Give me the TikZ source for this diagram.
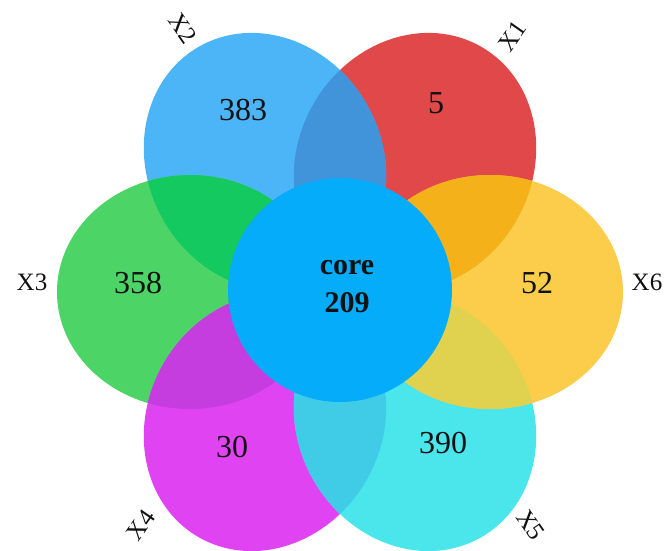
\documentclass[tikz,border=0pt]{standalone}
\usepackage{fontspec}
\setmainfont{Liberation Serif}
\definecolor{cA}{HTML}{E0484A}% X1 red
\definecolor{cB}{HTML}{4BB5F7}% X2 blue
\definecolor{cC}{HTML}{4DD466}% X3 green
\definecolor{cD}{HTML}{E044F2}% X4 magenta
\definecolor{cE}{HTML}{4AE6EC}% X5 cyan
\definecolor{cF}{HTML}{FBCD4A}% X6 yellow
\definecolor{cAB}{HTML}{4193DA}
\definecolor{cBC}{HTML}{14C95F}
\definecolor{cCD}{HTML}{C53CDF}
\definecolor{cDE}{HTML}{40CCE6}
\definecolor{cEF}{HTML}{E0D24F}
\definecolor{cFA}{HTML}{F5B11A}
\definecolor{corec}{HTML}{05ACFA}
\definecolor{txt}{HTML}{111111}
\newcommand\petalpath{(0,0) ellipse [x radius=133pt, y radius=117pt]}
\begin{document}
\begin{tikzpicture}[x=1pt,y=1pt,
  pA/.style={shift={(415,-162.1)},rotate=60},
  pB/.style={shift={(265,-162.1)},rotate=120},
  pC/.style={shift={(190,-292)},rotate=180},
  pD/.style={shift={(265,-421.9)},rotate=240},
  pE/.style={shift={(415,-421.9)},rotate=300},
  pF/.style={shift={(490,-292)},rotate=0},
  num/.style={font=\fontsize{32}{32}\selectfont, text=txt, inner sep=0pt},
  lab/.style={font=\fontsize{25}{25}\selectfont, text=txt, inner sep=0pt},
  corelab/.style={font=\bfseries\fontsize{30}{30}\selectfont, text=txt, inner sep=0pt}]
\useasboundingbox (0,0) rectangle (667,-550);
% petals
\fill[cA,pA] \petalpath;
\fill[cB,pB] \petalpath;
\fill[cC,pC] \petalpath;
\fill[cD,pD] \petalpath;
\fill[cE,pE] \petalpath;
\fill[cF,pF] \petalpath;
% pairwise overlaps
\begin{scope}\clip[pA] \petalpath; \fill[cAB,pB] \petalpath;\end{scope}
\begin{scope}\clip[pB] \petalpath; \fill[cBC,pC] \petalpath;\end{scope}
\begin{scope}\clip[pC] \petalpath; \fill[cCD,pD] \petalpath;\end{scope}
\begin{scope}\clip[pD] \petalpath; \fill[cDE,pE] \petalpath;\end{scope}
\begin{scope}\clip[pE] \petalpath; \fill[cEF,pF] \petalpath;\end{scope}
\begin{scope}\clip[pF] \petalpath; \fill[cFA,pA] \petalpath;\end{scope}
% core
\fill[corec] (340,-290) circle [radius=112pt];
% numbers
\node[num] (n383) at (243,-110) {383};
\node[num] (n5) at (436,-103) {5};
\node[num] (n358) at (138,-283) {358};
\node[num] (n52) at (537,-283) {52};
\node[num] (n30) at (232,-447) {30};
\node[num] (n390) at (443,-443) {390};
\node[corelab] (ncore) at (347,-268) {core};
\node[corelab] (n209) at (347,-303) {209};
% set labels
\node[lab,rotate=-55] (x2) at (183,-28) {X2};
\node[lab,rotate=55] (x1) at (512,-36) {X1};
\node[lab] (x3) at (32,-282) {X3};
\node[lab] (x6) at (647,-282) {X6};
\node[lab,rotate=55] (x4) at (141,-525) {X4};
\node[lab,rotate=-55] (x5) at (531,-525) {X5};
\end{tikzpicture}
\end{document}
